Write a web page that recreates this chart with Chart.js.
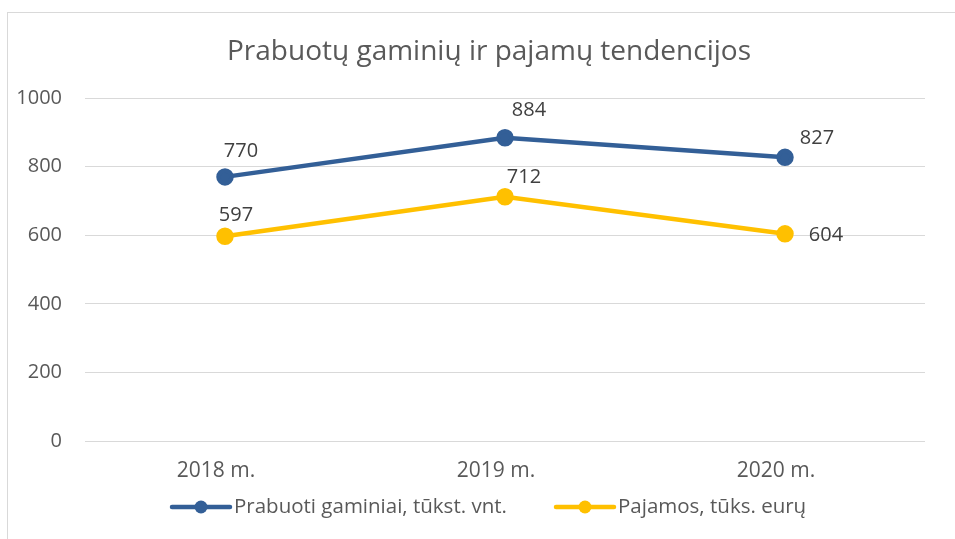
<!DOCTYPE html>
<html>
<head>
<meta charset="utf-8">
<script src="https://cdn.jsdelivr.net/npm/chart.js@4"></script>
<style>
  html, body { margin: 0; padding: 0; background: #fff; overflow: hidden; }
  #frame { position: absolute; left: 7px; top: 12px; width: 1000px; height: 600px;
           border-left: 1px solid #d9d9d9; border-top: 1px solid #d9d9d9; }
  #wrap { position: absolute; left: 0; top: 0; width: 955px; height: 539px; }
</style>
</head>
<body>
<div id="frame"></div>
<div id="wrap"><canvas id="trendChart" width="955" height="539"></canvas></div>
<script>
const chartTitle = "Prabuotų gaminių ir pajamų tendencijos";
const years = ["2018 m.", "2019 m.", "2020 m."];
const seriesNames = ["Prabuoti gaminiai, tūkst. vnt.", "Pajamos, tūks. eurų"];
const produced = [770, 884, 827];
const revenue = [597, 712, 604];
const yTicks = [0, 200, 400, 600, 800, 1000];

const BLUE = "#335f97";
const GOLD = "#ffc000";
const FONT = "'Open Sans', sans-serif";

// where each value label sits relative to its point (px)
const labelOffsets = [
  [[16, -26], [24, -27], [32, -19]],
  [[11, -21], [19, -19], [41, 1]]
];

const valueLabels = {
  id: "valueLabels",
  afterDatasetsDraw(chart) {
    const ctx = chart.ctx;
    ctx.save();
    ctx.font = "20px " + FONT;
    ctx.fillStyle = "#404040";
    ctx.textAlign = "center";
    ctx.textBaseline = "middle";
    chart.data.datasets.forEach((ds, di) => {
      chart.getDatasetMeta(di).data.forEach((pt, i) => {
        const off = labelOffsets[di][i];
        ctx.fillText(String(ds.data[i]), pt.x + off[0], pt.y + off[1]);
      });
    });
    ctx.restore();
  }
};

const titleAndLegend = {
  id: "titleAndLegend",
  afterDraw(chart) {
    const ctx = chart.ctx;
    ctx.save();
    ctx.fillStyle = "#595959";
    ctx.font = "28px " + FONT;
    ctx.textAlign = "center";
    ctx.textBaseline = "middle";
    ctx.fillText(chartTitle, 489, 52);

    const starts = [172, 556];
    ctx.font = "20.5px " + FONT;
    ctx.textAlign = "left";
    chart.data.datasets.forEach((ds, di) => {
      const x = starts[di], y = 507;
      ctx.strokeStyle = ds.borderColor;
      ctx.lineWidth = 4.5;
      ctx.lineCap = "round";
      ctx.beginPath();
      ctx.moveTo(x, y);
      ctx.lineTo(x + 58, y);
      ctx.stroke();
      ctx.fillStyle = ds.borderColor;
      ctx.beginPath();
      ctx.arc(x + 29, y, 6.5, 0, Math.PI * 2);
      ctx.fill();
      ctx.fillStyle = "#595959";
      ctx.fillText(ds.label, x + 62, y);
    });
    ctx.restore();
  }
};

new Chart(document.getElementById("trendChart"), {
  type: "line",
  data: {
    labels: years,
    datasets: [
      { label: seriesNames[0], data: produced, borderColor: BLUE, backgroundColor: BLUE,
        borderWidth: 4.5, pointRadius: 6.5, pointHoverRadius: 6.5, tension: 0 },
      { label: seriesNames[1], data: revenue, borderColor: GOLD, backgroundColor: GOLD,
        borderWidth: 4.5, pointRadius: 6.5, pointHoverRadius: 6.5, tension: 0 }
    ]
  },
  options: {
    responsive: false,
    animation: false,
    layout: { padding: { top: 98, right: 30, left: 0, bottom: 0 } },
    plugins: { legend: { display: false }, title: { display: false }, tooltip: { enabled: false } },
    scales: {
      x: {
        offset: true,
        grid: { display: false, drawTicks: false },
        border: { display: false },
        ticks: { color: "#595959", font: { family: FONT, size: 21 }, padding: 17, labelOffset: -9 },
        afterFit(scale) { scale.height = 98; }
      },
      y: {
        min: 0,
        max: 1000,
        afterBuildTicks(scale) { scale.ticks = yTicks.map(v => ({ value: v })); },
        grid: { color: "#d9d9d9", lineWidth: 1, drawTicks: false },
        border: { display: false },
        ticks: { color: "#595959", font: { family: FONT, size: 20 }, padding: 23,
                 callback: v => String(v) },
        afterFit(scale) { scale.width = 85; }
      }
    }
  },
  plugins: [valueLabels, titleAndLegend]
});
</script>
</body>
</html>
